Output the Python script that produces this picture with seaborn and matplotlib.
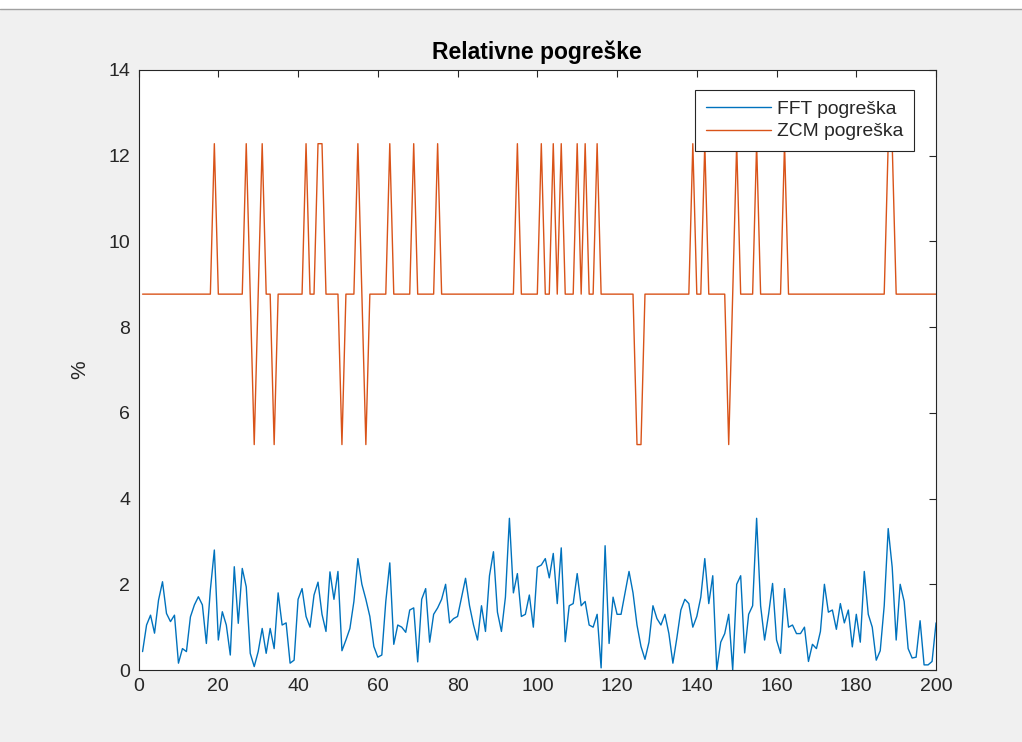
import numpy as np
import pandas as pd
import matplotlib
matplotlib.use("Agg")
import matplotlib.pyplot as plt
from matplotlib.lines import Line2D
import seaborn as sns

# Sample index (1..200)
samples = list(range(1, 201))

# Relative error of the FFT frequency estimate, in %
fft_err = [
    0.43, 1.05, 1.28, 0.86, 1.63, 2.06, 1.32, 1.13, 1.28, 0.16,
    0.50, 0.43, 1.24, 1.52, 1.71, 1.52, 0.62, 1.87, 2.80, 0.70,
    1.36, 1.05, 0.35, 2.41, 1.09, 2.37, 1.94, 0.39, 0.08, 0.43,
    0.97, 0.39, 0.97, 0.50, 1.80, 1.05, 1.10, 0.16, 0.23, 1.65,
    1.90, 1.25, 1.00, 1.75, 2.05, 1.30, 0.90, 2.29, 1.65, 2.30,
    0.45, 0.70, 0.97, 1.60, 2.60, 2.00, 1.65, 1.25, 0.55, 0.30,
    0.35, 1.60, 2.50, 0.60, 1.05, 1.00, 0.88, 1.40, 1.45, 0.19,
    1.65, 1.90, 0.65, 1.30, 1.45, 1.65, 2.00, 1.10, 1.20, 1.25,
    1.70, 2.14, 1.50, 1.05, 0.70, 1.50, 0.90, 2.20, 2.76, 1.35,
    0.90, 1.70, 3.54, 1.80, 2.25, 1.25, 1.30, 1.75, 1.00, 2.40,
    2.45, 2.60, 2.15, 2.72, 1.55, 2.85, 0.66, 1.50, 1.55, 2.25,
    1.50, 1.60, 1.05, 1.00, 1.30, 0.05, 2.90, 0.62, 1.70, 1.30,
    1.30, 1.80, 2.30, 1.80, 1.05, 0.55, 0.25, 0.65, 1.50, 1.20,
    1.05, 1.30, 0.85, 0.16, 0.75, 1.40, 1.65, 1.55, 1.00, 1.25,
    1.70, 2.60, 1.55, 2.20, 0.00, 0.65, 0.85, 1.30, 0.00, 2.00,
    2.20, 0.40, 1.30, 1.50, 3.54, 1.50, 0.70, 1.30, 2.02, 0.70,
    0.39, 1.90, 1.00, 1.05, 0.85, 0.85, 1.00, 0.20, 0.60, 0.50,
    0.90, 2.00, 1.35, 1.40, 0.95, 1.55, 1.10, 1.40, 0.54, 1.30,
    0.65, 2.30, 1.30, 1.00, 0.23, 0.45, 1.50, 3.30, 2.40, 0.70,
    2.00, 1.60, 0.50, 0.28, 0.30, 1.15, 0.12, 0.12, 0.20, 1.10,
]

# Relative error of the zero-crossing estimate, in %: a baseline level
# with occasional jumps up or down by one step
zcm_base = 8.77
zcm_high = 12.28
zcm_low = 5.26
zcm_high_at = [19, 27, 31, 42, 45, 46, 55, 63, 69, 75, 95, 101, 104, 106,
               110, 112, 115, 139, 142, 150, 155, 162, 188, 189]
zcm_low_at = [29, 34, 51, 57, 125, 126, 148]
zcm_err = [zcm_high if s in zcm_high_at else zcm_low if s in zcm_low_at else zcm_base
           for s in samples]

title_text = "Relativne pogreške"
y_label = "%"
fft_label = "FFT pogreška"
zcm_label = "ZCM pogreška"
x_ticks = list(range(0, 201, 20))
y_ticks = list(range(0, 15, 2))

df = pd.DataFrame({"n": samples, "FFT": fft_err, "ZCM": zcm_err})

sns.set_style("white")
plt.rcParams["font.family"] = ["Liberation Sans", "DejaVu Sans"]

ink = "#262626"
fig = plt.figure(figsize=(10.22, 7.42), dpi=100, facecolor="#F0F0F0")
ax = fig.add_axes([0.1356, 0.097, 0.7803, 0.8087])
ax.set_facecolor("white")

sns.lineplot(data=df, x="n", y="FFT", ax=ax, color="#0072BD", linewidth=1.0,
             label=fft_label)
sns.lineplot(data=df, x="n", y="ZCM", ax=ax, color="#D95319", linewidth=1.0,
             label=zcm_label)

ax.set_xlim(0, 200)
ax.set_ylim(0, 14)
ax.set_xticks(x_ticks)
ax.set_yticks(y_ticks)
ax.tick_params(direction="in", length=5, width=0.8, colors=ink, labelsize=14,
               top=True, right=True, labelcolor=ink, pad=6)
for side in ax.spines.values():
    side.set_color(ink)
    side.set_linewidth(0.8)

ax.set_xlabel("")
ax.set_ylabel(y_label, fontsize=15, color=ink, labelpad=14)
ax.set_title(title_text, fontsize=16.5, fontweight="bold", color="black", pad=8)

leg = ax.legend(loc="upper right", bbox_to_anchor=(0.9724, 0.9667),
                fontsize=13.9, frameon=True, fancybox=False, framealpha=1,
                edgecolor=ink, borderpad=0.55, handlelength=3.4,
                handletextpad=0.3, labelspacing=0.25, borderaxespad=0.0)
leg.get_frame().set_linewidth(0.8)
for t in leg.get_texts():
    t.set_color(ink)

# thin white strip and separator line along the top edge of the window
fig.add_artist(plt.Rectangle((0, 1 - 9 / 742), 1, 9 / 742, transform=fig.transFigure,
                             facecolor="white", edgecolor="none"))
fig.add_artist(Line2D([0, 1], [1 - 9 / 742, 1 - 9 / 742], transform=fig.transFigure,
                      color="#A0A0A0", linewidth=1.0))

fig.savefig("out.png", dpi=100, facecolor=fig.get_facecolor())
